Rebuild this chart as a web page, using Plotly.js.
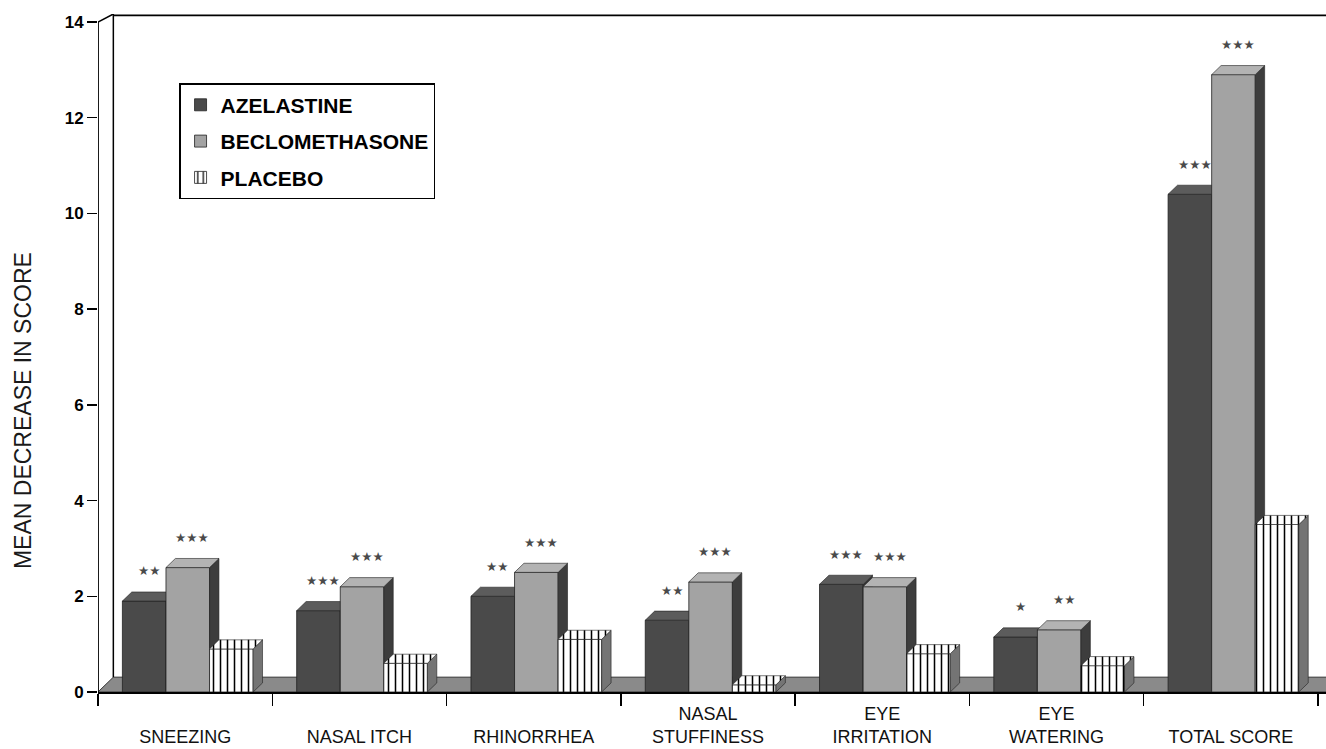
<!DOCTYPE html>
<html>
<head>
<meta charset="utf-8">
<script src="https://cdn.plot.ly/plotly-3.0.1.min.js"></script>
<style>html,body{margin:0;padding:0;background:#fff;}#chart{width:1326px;height:749px;}</style>
</head>
<body>
<div id="chart"></div>
<script>
// ---- data ----
const categories = ["SNEEZING", "NASAL ITCH", "RHINORRHEA", "NASAL STUFFINESS", "EYE IRRITATION", "EYE WATERING", "TOTAL SCORE"];
const tickLabels = ["&nbsp;<br>SNEEZING", "&nbsp;<br>NASAL ITCH", "&nbsp;<br>RHINORRHEA", "NASAL<br>STUFFINESS", "EYE<br>IRRITATION", "EYE<br>WATERING", "&nbsp;<br>TOTAL SCORE"];
const seriesNames = ["AZELASTINE", "BECLOMETHASONE", "PLACEBO"];
const azelastine = [1.9, 1.7, 2.0, 1.5, 2.25, 1.15, 10.4];
const beclomethasone = [2.6, 2.2, 2.5, 2.3, 2.2, 1.3, 12.9];
const placebo = [0.9, 0.6, 1.1, 0.15, 0.8, 0.55, 3.5];
const sigAzelastine = ["**", "***", "**", "**", "***", "*", "***"];
const sigBeclomethasone = ["***", "***", "***", "***", "***", "**", "***"];
const sigPlacebo = ["", "", "", "", "", "", ""];
const yTicks = [0, 2, 4, 6, 8, 10, 12, 14];

// ---- geometry / style ----
const FONT = "Arial, 'Liberation Sans', Helvetica, sans-serif";
const X0 = -0.5, X1 = 6.546, Y1 = 14.167;
const BW = 0.25;                          // bar width (category units)
const OFFS = [-0.36, -0.11, 0.14];        // bar offsets
const DX = 0.054, DY = 0.19;              // bar depth
const DXW = 0.088, DYW = 0.31;            // floor / wall depth
const xs = categories.map((c, i) => i);

const styles = [
  {front: "#4a4a4a", top: "#5c5c5c", side: "#333333", pattern: null},
  {front: "#a3a3a3", top: "#b3b3b3", side: "#3d3d3d", pattern: null},
  {front: "#ffffff", top: "#ffffff", side: "#747474",
   pattern: {shape: "|", fgcolor: "#000", bgcolor: "#fff", size: 7, solidity: 0.22}}
];
const values = [azelastine, beclomethasone, placebo];
const sigs = [sigAzelastine, sigBeclomethasone, sigPlacebo];

const traces = [];
values.forEach((vals, s) => {
  const ax = s === 0 ? "" : String(s + 1);
  const st = styles[s];
  const marker = {color: st.front, line: {color: "#222", width: 0.8}};
  if (st.pattern) marker.pattern = st.pattern;
  traces.push({
    type: "bar", name: seriesNames[s], x: xs, y: vals,
    width: BW, offset: OFFS[s], marker: marker,
    xaxis: "x" + ax, yaxis: "y" + ax, legendgroup: "g" + s, hoverinfo: "y"
  });
  // top faces and side faces
  const tx = [], ty = [], sx = [], sy = [];
  vals.forEach((v, i) => {
    const l = i + OFFS[s], r = l + BW;
    tx.push(l, l + DX, r + DX, r, l, null);
    ty.push(v, v + DY, v + DY, v, v, null);
    sx.push(r, r + DX, r + DX, r, r, null);
    sy.push(0, DY, v + DY, v, 0, null);
  });
  const side = {type: "scatter", mode: "lines", x: sx, y: sy, fill: "toself",
    fillcolor: st.side, line: {color: "#222", width: 0.6},
    xaxis: "x" + ax, yaxis: "y" + ax, showlegend: false, hoverinfo: "skip", legendgroup: "g" + s};
  const top = {type: "scatter", mode: "lines", x: tx, y: ty, fill: "toself",
    fillcolor: st.top, line: {color: "#222", width: 0.6},
    xaxis: "x" + ax, yaxis: "y" + ax, showlegend: false, hoverinfo: "skip", legendgroup: "g" + s};
  if (st.pattern) top.fillpattern = st.pattern;
  traces.push(side, top);
});

// significance stars
const annotations = [];
sigs.forEach((arr, s) => {
  arr.forEach((t, i) => {
    if (!t) return;
    annotations.push({
      x: i + OFFS[s] + BW / 2 + DX / 2, y: values[s][i] + DY, xref: "x", yref: "y",
      text: t.replace(/\*/g, "★"), showarrow: false, yanchor: "middle", yshift: 21,
      font: {family: "DejaVu Sans, sans-serif", size: 12.5, color: "#4a4a4a"}
    });
  });
});
annotations.push({
  text: "MEAN DECREASE IN SCORE", xref: "paper", yref: "paper",
  x: -0.061, y: 0.4145, textangle: -90, showarrow: false,
  xanchor: "center", yanchor: "middle",
  font: {family: FONT, size: 23, color: "#1a1a1a"}
});

const shapes = [
  // floor
  {type: "path", xref: "x", yref: "y", layer: "below",
   path: `M${X0},0 L${X0 + DXW},${DYW} L${X1 + 1},${DYW} L${X1 + 1},0 Z`,
   fillcolor: "#8a8a8a", line: {color: "#333", width: 1}},
  // left front axis line
  {type: "line", xref: "x", yref: "y", x0: X0, x1: X0, y0: 0, y1: 14, line: {color: "#000", width: 1.8}},
  // diagonal at top
  {type: "line", xref: "x", yref: "y", x0: X0, x1: X0 + DXW, y0: 14, y1: Y1, line: {color: "#000", width: 1.5}},
  // wall inner line
  {type: "line", xref: "x", yref: "y", x0: X0 + DXW, x1: X0 + DXW, y0: DYW, y1: Y1, line: {color: "#000", width: 1.5}},
  // top line
  {type: "line", xref: "x", yref: "paper", x0: X0 + DXW, x1: X1 + 1, y0: 0.998, y1: 0.998, line: {color: "#000", width: 1.8}}
];

const hidden = {range: [X0, X1], visible: false, fixedrange: true};
const hiddenY = {range: [0, Y1], visible: false, fixedrange: true};

const layout = {
  width: 1326, height: 749,
  margin: {l: 98, r: 0, t: 14, b: 57},
  paper_bgcolor: "#fff", plot_bgcolor: "rgba(0,0,0,0)",
  showlegend: true,
  legend: {
    x: 0.066, y: 0.898, xanchor: "left", yanchor: "top",
    bgcolor: "#fff", bordercolor: "#000", borderwidth: 1.5,
    font: {family: FONT, size: 21, color: "#000", weight: "bold"},
    tracegroupgap: 6, traceorder: "grouped", itemwidth: 30
  },
  xaxis: {
    range: [X0, X1], showgrid: false, zeroline: false,
    showline: true, linecolor: "#000", linewidth: 2,
    tickmode: "array", tickvals: xs, ticktext: tickLabels,
    ticks: "", ticklabelstandoff: 4,
    tickfont: {family: FONT, size: 18, color: "#111"},
    minor: {tickmode: "linear", tick0: -0.5, dtick: 1, ticks: "outside", ticklen: 12, tickwidth: 1.5, tickcolor: "#000", showgrid: false},
    fixedrange: true
  },
  yaxis: {
    range: [0, Y1], showgrid: false, zeroline: false, showline: false,
    tickmode: "array", tickvals: yTicks, ticks: "outside", ticklen: 10, tickwidth: 1.5, tickcolor: "#000",
    tickfont: {family: FONT, size: 17, color: "#000", weight: "bold"},
    fixedrange: true
  },
  xaxis2: Object.assign({overlaying: "x"}, hidden),
  yaxis2: Object.assign({overlaying: "y"}, hiddenY),
  xaxis3: Object.assign({overlaying: "x"}, hidden),
  yaxis3: Object.assign({overlaying: "y"}, hiddenY),
  shapes: shapes,
  annotations: annotations
};

Plotly.newPlot("chart", traces, layout, {displayModeBar: false, staticPlot: true});
</script>
</body>
</html>
